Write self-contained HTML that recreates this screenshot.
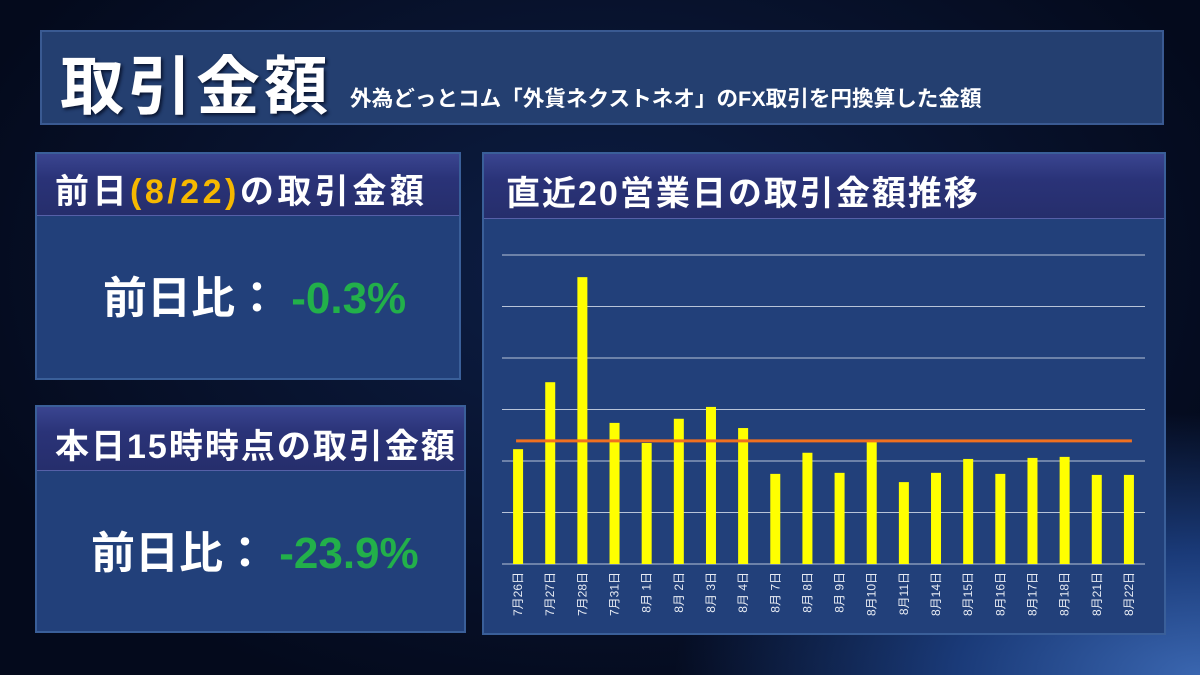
<!DOCTYPE html>
<html><head><meta charset="utf-8"><style>
*{margin:0;padding:0;box-sizing:border-box}
body{width:1200px;height:675px;overflow:hidden;position:relative;font-family:"Liberation Sans","Noto Sans CJK JP",sans-serif;
background:radial-gradient(ellipse 700px 350px at 1200px 675px,#3a66b0 0%,#1a3a78 35%,rgba(10,25,60,0) 75%),radial-gradient(ellipse at 50% 40%,#0d1e45 0%,#040a1c 80%);}
.box{position:absolute;background:#22407a;border:2px solid #3a5f99;}
.hdr{position:absolute;left:0;right:0;top:0;background:linear-gradient(#3a4590,#2a3378 40%,#262e6c);border-bottom:1px solid #5660a8;color:#fff;font-weight:bold;white-space:nowrap;letter-spacing:2px}
.big{position:absolute;color:#fff;font-weight:bold;white-space:nowrap}
.g{color:#22b04a}
</style></head><body>
<div class="box" style="left:40px;top:30px;width:1124px;height:95px;background:#243f70;border-color:#3a5a92">
 <div class="big" style="left:18px;top:4px;font-size:64px;letter-spacing:4px;text-shadow:2px 2px 3px #0a1530">取引金額</div>
 <div class="big" style="left:308px;top:50px;font-size:21.6px">外為どっとコム「外貨ネクストネオ」のFX取引を円換算した金額</div>
</div>
<div class="box" style="left:35px;top:152px;width:426px;height:228px">
 <div class="hdr" style="height:62px;font-size:34px;padding:10px 0 0 18px;letter-spacing:3.5px">前日<span style="color:#f6b800">(8/22)</span>の取引金額</div>
 <div class="big" style="left:66px;top:108px;font-size:44px">前日比： <span class="g">-0.3%</span></div>
</div>
<div class="box" style="left:35px;top:405px;width:431px;height:228px">
 <div class="hdr" style="height:64px;font-size:34px;padding:12px 0 0 18px">本日15時時点の取引金額</div>
 <div class="big" style="left:54px;top:110px;font-size:44px">前日比： <span class="g">-23.9%</span></div>
</div>
<div class="box" style="left:482px;top:152px;width:684px;height:483px">
 <div class="hdr" style="height:65px;font-size:34px;padding:12px 0 0 22px">直近20営業日の取引金額推移</div>
</div>
<svg id="chart" width="1200" height="675" style="position:absolute;left:0;top:0"></svg>
<script>
const categories=["7月26日","7月27日","7月28日","7月31日","8月 1日","8月 2日","8月 3日","8月 4日","8月 7日","8月 8日","8月 9日","8月10日","8月11日","8月14日","8月15日","8月16日","8月17日","8月18日","8月21日","8月22日"];
const values=[2.23,3.53,5.57,2.74,2.35,2.82,3.05,2.64,1.75,2.16,1.77,2.37,1.59,1.77,2.04,1.75,2.06,2.08,1.73,1.73];
const average=[2.39];
const gridTicks=[0,1,2,3,4,5,6];
const svg=document.getElementById('chart');const NS='http://www.w3.org/2000/svg';
const x0=502,x1=1145,yBase=564,yTop=255,vMax=6;
const y=v=>yBase-(v/vMax)*(yBase-yTop);
const step=(x1-x0)/categories.length;
const xc=i=>x0+step*(i+0.5);
function mk(t,a){const e=document.createElementNS(NS,t);for(const k in a)e.setAttribute(k,a[k]);svg.appendChild(e);return e;}
gridTicks.forEach(t=>{const l=mk('line',{x1:x0,x2:x1,y1:y(t),y2:y(t),stroke:'#b8c4d8','stroke-width':1});

});
values.forEach((v,i)=>{const r=mk('rect',{x:xc(i)-5,y:y(v),width:10,height:yBase-y(v),fill:'#ffff00'});


const tx=mk('text',{x:0,y:0,fill:'#e8ecf4','font-size':12,'text-anchor':'end',transform:`translate(${xc(i)+4},${yBase+8}) rotate(-90)`});
tx.textContent=categories[i];

});
const al=mk('line',{x1:xc(0)-2,x2:xc(categories.length-1)+3,y1:y(average[0]),y2:y(average[0]),stroke:'#f07020','stroke-width':3});


</script>
</body></html>
